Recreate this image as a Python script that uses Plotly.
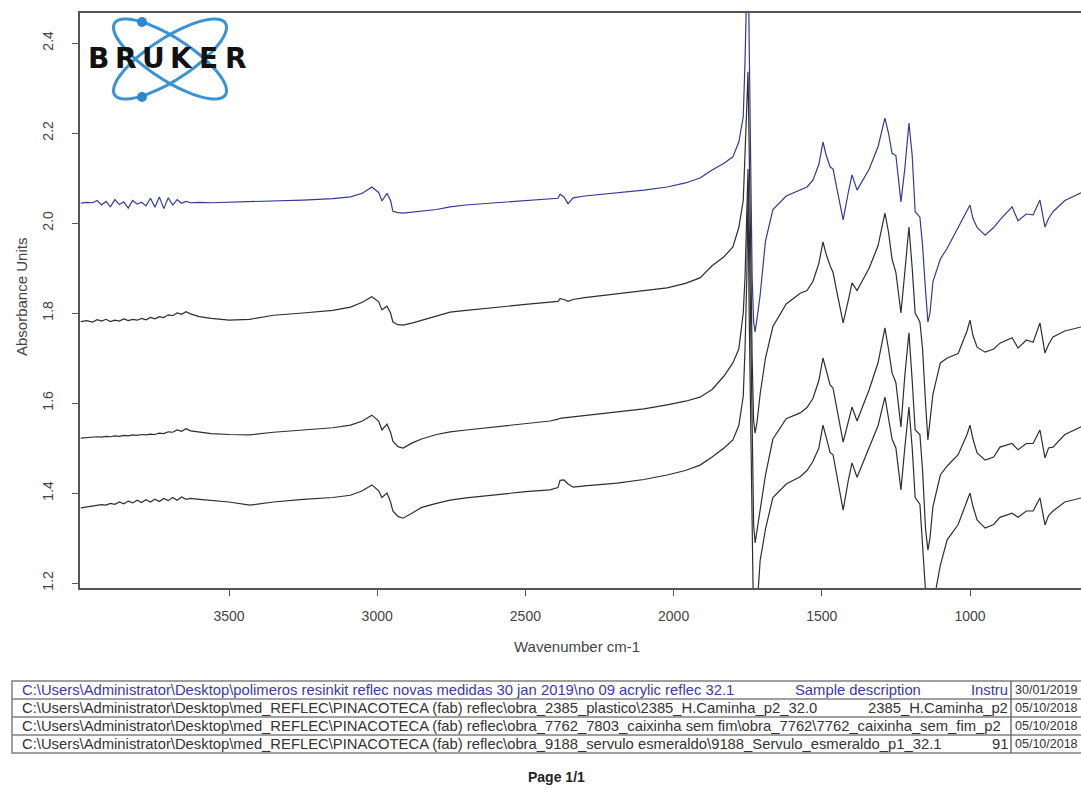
import numpy as np
import plotly.graph_objects as go

# ---------------- data ----------------
WAVENUMBER = [
    # noise region
    4000, 3980, 3960, 3945, 3930, 3915, 3900, 3885, 3870, 3855, 3840, 3825, 3810,
    3795, 3780, 3765, 3750, 3735, 3720, 3705, 3690, 3675, 3660, 3645, 3630,
    # C-H region
    3600, 3560, 3500, 3430, 3350, 3250, 3150, 3090, 3050, 3018, 2995, 2984, 2967,
    2955, 2947, 2930, 2913, 2880, 2850,
    # plateau
    2800, 2754, 2700, 2600, 2500, 2417, 2390, 2383, 2370, 2356, 2339, 2300, 2250,
    2191, 2100, 2022, 1960, 1911,
    # carbonyl
    1870, 1830, 1800, 1780, 1765, 1759, 1753, 1749, 1745, 1740, 1735, 1730, 1725,
    1718, 1708, 1690, 1665,
    # fingerprint
    1620, 1573, 1550, 1530, 1510, 1496, 1485, 1472, 1462, 1450, 1428, 1410, 1398,
    1381, 1340, 1310, 1287, 1275, 1263, 1250, 1233, 1220, 1206, 1195, 1185, 1169,
    1160, 1150, 1142, 1135, 1125,
    # low wavenumber
    1100, 1077, 1040, 1010, 1000, 990, 976, 949, 920, 899, 858, 838, 810, 787, 764,
    747, 735, 720, 680, 625,
]

ACRYLIC_REFLEC = [
    2.044, 2.046, 2.045, 2.050, 2.040, 2.048, 2.036, 2.052, 2.041, 2.047, 2.033, 2.050, 2.042,
    2.046, 2.038, 2.055, 2.035, 2.058, 2.032, 2.056, 2.040, 2.052, 2.044, 2.048, 2.045,
    2.046, 2.045, 2.046, 2.047, 2.049, 2.051, 2.054, 2.058, 2.066, 2.080, 2.068, 2.049, 2.066,
    2.050, 2.026, 2.023, 2.022, 2.024, 2.027,
    2.030, 2.036, 2.040, 2.045, 2.049, 2.053, 2.055, 2.064, 2.058, 2.043, 2.056, 2.060, 2.063,
    2.067, 2.073, 2.080, 2.089, 2.100,
    2.118, 2.133, 2.147, 2.180, 2.236, 2.360, 2.550, 2.650, 2.400, 2.100, 1.880, 1.780, 1.758,
    1.790, 1.840, 1.960, 2.030,
    2.060, 2.073, 2.080, 2.095, 2.130, 2.180, 2.150, 2.125, 2.120, 2.080, 2.007, 2.070, 2.107,
    2.073, 2.120, 2.170, 2.233, 2.200, 2.155, 2.150, 2.047, 2.120, 2.222, 2.150, 2.025, 2.013,
    1.950, 1.850, 1.780, 1.800, 1.870,
    1.920, 1.944, 1.990, 2.030, 2.040, 2.010, 1.990, 1.973, 1.990, 2.007, 2.036, 2.005, 2.020,
    2.018, 2.051, 1.991, 2.010, 2.025, 2.050, 2.067,
]

CAMINHA_P2 = [
    1.781, 1.783, 1.780, 1.785, 1.782, 1.786, 1.781, 1.784, 1.782, 1.787, 1.783, 1.786, 1.784,
    1.788, 1.785, 1.790, 1.787, 1.792, 1.790, 1.796, 1.794, 1.800, 1.797, 1.803, 1.798,
    1.792, 1.788, 1.784, 1.786, 1.795, 1.800, 1.806, 1.813, 1.824, 1.836, 1.825, 1.807, 1.815,
    1.800, 1.780, 1.774, 1.773, 1.778, 1.784,
    1.793, 1.802, 1.806, 1.813, 1.819, 1.824, 1.826, 1.832, 1.830, 1.826, 1.830, 1.834, 1.838,
    1.844, 1.850, 1.856, 1.866, 1.878,
    1.905, 1.925, 1.947, 1.990, 2.050, 2.140, 2.260, 2.336, 2.200, 1.950, 1.700, 1.560, 1.533,
    1.560, 1.620, 1.700, 1.770,
    1.820, 1.844, 1.850, 1.870, 1.910, 1.958, 1.930, 1.905, 1.890, 1.850, 1.778, 1.830, 1.867,
    1.850, 1.900, 1.950, 2.022, 1.980, 1.920, 1.890, 1.800, 1.890, 1.991, 1.900, 1.800, 1.780,
    1.720, 1.600, 1.518, 1.560, 1.620,
    1.689, 1.700, 1.710, 1.760, 1.784, 1.750, 1.724, 1.713, 1.720, 1.733, 1.745, 1.722, 1.740,
    1.735, 1.778, 1.711, 1.730, 1.747, 1.760, 1.769,
]

CAIXINHA_P2 = [
    1.522, 1.523, 1.524, 1.525, 1.524, 1.526, 1.525, 1.527, 1.526, 1.528, 1.527, 1.529, 1.528,
    1.530, 1.529, 1.531, 1.530, 1.533, 1.532, 1.536, 1.535, 1.540, 1.537, 1.543, 1.538,
    1.535, 1.532, 1.530, 1.529, 1.535, 1.540, 1.545, 1.551, 1.560, 1.573, 1.560, 1.540, 1.553,
    1.535, 1.515, 1.503, 1.500, 1.512, 1.520,
    1.530, 1.536, 1.540, 1.547, 1.554, 1.560, 1.564, 1.566, 1.567, 1.568, 1.569, 1.572, 1.576,
    1.580, 1.587, 1.596, 1.604, 1.613,
    1.630, 1.660, 1.689, 1.720, 1.800, 1.880, 2.000, 2.120, 2.000, 1.750, 1.500, 1.330, 1.289,
    1.320, 1.356, 1.440, 1.520,
    1.565, 1.578, 1.590, 1.610, 1.650, 1.700, 1.670, 1.640, 1.633, 1.590, 1.513, 1.560, 1.591,
    1.560, 1.630, 1.690, 1.767, 1.720, 1.667, 1.645, 1.547, 1.660, 1.756, 1.650, 1.540, 1.530,
    1.450, 1.320, 1.273, 1.300, 1.370,
    1.440, 1.460, 1.485, 1.530, 1.551, 1.520, 1.489, 1.473, 1.480, 1.502, 1.510, 1.496, 1.510,
    1.510, 1.540, 1.478, 1.500, 1.502, 1.530, 1.547,
]

SERVULO_P1 = [
    1.367, 1.369, 1.371, 1.372, 1.374, 1.373, 1.377, 1.375, 1.380, 1.376, 1.382, 1.378, 1.384,
    1.379, 1.385, 1.380, 1.386, 1.381, 1.388, 1.383, 1.390, 1.384, 1.391, 1.386, 1.388,
    1.386, 1.383, 1.380, 1.373, 1.380, 1.386, 1.390, 1.395, 1.405, 1.418, 1.405, 1.390, 1.400,
    1.380, 1.360, 1.348, 1.344, 1.356, 1.368,
    1.377, 1.384, 1.389, 1.396, 1.403, 1.407, 1.412, 1.428, 1.429, 1.420, 1.413, 1.416, 1.419,
    1.422, 1.430, 1.440, 1.450, 1.462,
    1.480, 1.500, 1.518, 1.550, 1.615, 1.720, 1.880, 2.070, 1.800, 1.500, 1.250, 1.100, 1.050,
    1.150, 1.250, 1.320, 1.390,
    1.420, 1.436, 1.450, 1.470, 1.500, 1.551, 1.520, 1.490, 1.485, 1.440, 1.362, 1.430, 1.467,
    1.435, 1.500, 1.550, 1.613, 1.570, 1.520, 1.500, 1.407, 1.500, 1.591, 1.500, 1.390, 1.375,
    1.280, 1.150, 1.100, 1.100, 1.150,
    1.240, 1.296, 1.330, 1.380, 1.400, 1.370, 1.340, 1.322, 1.330, 1.346, 1.355, 1.346, 1.360,
    1.360, 1.389, 1.329, 1.350, 1.360, 1.380, 1.389,
]

SERIES = [ACRYLIC_REFLEC, CAMINHA_P2, CAIXINHA_P2, SERVULO_P1]
SERIES_COLORS = ["#353a92", "#2e2e2e", "#2e2e2e", "#2e2e2e"]

X_TICKS = [3500, 3000, 2500, 2000, 1500, 1000]
Y_TICKS = [1.2, 1.4, 1.6, 1.8, 2.0, 2.2, 2.4]
Y_TICK_LABELS = ["1.2", "1.4", "1.6", "1.8", "2.0", "2.2", "2.4"]

TABLE_PATHS = [
    r"C:\Users\Administrator\Desktop\polimeros resinkit reflec novas medidas 30 jan 2019\no 09 acrylic reflec 32.1",
    r"C:\Users\Administrator\Desktop\med_REFLEC\PINACOTECA (fab) reflec\obra_2385_plastico\2385_H.Caminha_p2_32.0",
    r"C:\Users\Administrator\Desktop\med_REFLEC\PINACOTECA (fab) reflec\obra_7762_7803_caixinha sem fim\obra_7762\7762_caixinha_sem_fim_p2",
    r"C:\Users\Administrator\Desktop\med_REFLEC\PINACOTECA (fab) reflec\obra_9188_servulo esmeraldo\9188_Servulo_esmeraldo_p1_32.1",
]
TABLE_DESC = ["Sample description", "2385_H.Caminha_p2", "", "91"]
TABLE_INSTR = ["Instru", "", "", ""]
TABLE_DATES = ["30/01/2019", "05/10/2018", "05/10/2018", "05/10/2018"]

# ---------------- layout geometry ----------------
W, H = 1081, 792
L, T, B_PX = 80, 13, 588          # plot area pixel edges
PW, PH = W - L, B_PX - T


def px(xp):
    return (xp - L) / PW


def py(yp):
    return (B_PX - yp) / PH


fig = go.Figure()
for vals, col in zip(SERIES, SERIES_COLORS):
    fig.add_trace(go.Scatter(x=WAVENUMBER, y=vals, mode="lines",
                             line=dict(color=col, width=1.2), showlegend=False,
                             hoverinfo="skip"))

FONT = "Liberation Sans, Arial, sans-serif"
AX = "#555555"
TXT = "#444444"

shapes = []
annotations = []

# ---- BRUKER logo ----
cx, cy, a, b = 170, 59, 66, 21
t = np.linspace(0, 2 * np.pi, 73)
for ang in (33, -33):
    th = np.radians(ang)
    ex = cx + a * np.cos(t) * np.cos(th) - b * np.sin(t) * np.sin(th)
    ey = cy + a * np.cos(t) * np.sin(th) + b * np.sin(t) * np.cos(th)
    path = "M " + " L ".join(f"{px(x_):.5f},{py(y_):.5f}" for x_, y_ in zip(ex, ey)) + " Z"
    shapes.append(dict(type="path", path=path, xref="paper", yref="paper",
                       line=dict(color="#3a93d2", width=3), layer="above"))
for dx_, dy_ in ((142, 22), (142, 97)):
    shapes.append(dict(type="circle", xref="paper", yref="paper",
                       x0=px(dx_ - 5), x1=px(dx_ + 5), y0=py(dy_ + 5), y1=py(dy_ - 5),
                       fillcolor="#2f88cc", line=dict(width=0), layer="above"))
for i, ch in enumerate("BRUKER"):
    xc = 85 + 165 / 6 * (i + 0.5)
    annotations.append(dict(text=f"<b>{ch}</b>", x=px(xc), y=py(59), xref="paper",
                            yref="paper", showarrow=False, xanchor="center",
                            yanchor="middle", borderpad=0,
                            font=dict(family="DejaVu Sans", size=28, color="#111111")))

# ---- axis titles ----
annotations.append(dict(text="Absorbance Units", x=px(22), y=py(297), xref="paper", yref="paper",
                        showarrow=False, textangle=-90, xanchor="center", yanchor="middle",
                        font=dict(family=FONT, size=15, color=TXT)))
annotations.append(dict(text="Wavenumber cm-1", x=px(577), y=py(646), xref="paper", yref="paper",
                        showarrow=False, xanchor="center", yanchor="middle",
                        font=dict(family=FONT, size=15, color=TXT)))

# ---- table ----
tbl_top, row_h = 681, 18
tbl_left, tbl_right, divider = 12, 1100, 1011
n_rows = len(TABLE_PATHS)
shapes.append(dict(type="rect", xref="paper", yref="paper",
                   x0=px(tbl_left), x1=px(tbl_right), y0=py(tbl_top), y1=py(tbl_top + n_rows * row_h),
                   line=dict(color="#808080", width=1.5)))
for r in range(1, n_rows):
    yy = tbl_top + r * row_h
    shapes.append(dict(type="line", xref="paper", yref="paper",
                       x0=px(tbl_left), x1=px(tbl_right), y0=py(yy), y1=py(yy),
                       line=dict(color="#808080", width=1.5)))
shapes.append(dict(type="line", xref="paper", yref="paper",
                   x0=px(divider), x1=px(divider), y0=py(tbl_top), y1=py(tbl_top + n_rows * row_h),
                   line=dict(color="#707070", width=1.5)))

TSIZE = 14.8
for r in range(n_rows):
    yc = tbl_top + r * row_h + row_h / 2
    col = "#3a3aa8" if r == 0 else "#333333"
    f = dict(family=FONT, size=TSIZE, color=col)
    annotations.append(dict(text=TABLE_PATHS[r], x=px(20), y=py(yc), xref="paper", yref="paper",
                            showarrow=False, xanchor="left", yanchor="middle", font=f))
    if r == 0:
        annotations.append(dict(text=TABLE_DESC[r], x=px(793), y=py(yc), xref="paper", yref="paper",
                                showarrow=False, xanchor="left", yanchor="middle", font=f))
        annotations.append(dict(text=TABLE_INSTR[r], x=px(divider - 1), y=py(yc), xref="paper",
                                yref="paper", showarrow=False, xanchor="right", yanchor="middle",
                                font=f))
    elif TABLE_DESC[r]:
        annotations.append(dict(text=TABLE_DESC[r], x=px(divider - 1), y=py(yc), xref="paper",
                                yref="paper", showarrow=False, xanchor="right", yanchor="middle",
                                font=f))
    annotations.append(dict(text=TABLE_DATES[r], x=px(1014), y=py(yc), xref="paper", yref="paper",
                            showarrow=False, xanchor="left", yanchor="middle", borderpad=0,
                            font=dict(family=FONT, size=12.5, color="#333333")))

annotations.append(dict(text="<b>Page 1/1</b>", x=px(556), y=py(777), xref="paper", yref="paper",
                        showarrow=False, xanchor="center", yanchor="middle",
                        font=dict(family=FONT, size=14, color="#222222")))

fig.update_layout(
    width=W, height=H,
    margin=dict(l=L, r=0, t=T, b=H - B_PX, pad=0),
    paper_bgcolor="white", plot_bgcolor="white",
    showlegend=False,
    shapes=shapes, annotations=annotations,
    xaxis=dict(range=[4002.7, 625.5], tickvals=X_TICKS, ticks="outside", ticklen=6,
               tickcolor=AX, tickwidth=1.2, showline=True, linecolor=AX, linewidth=1.5,
               mirror=True, showgrid=False, zeroline=False, ticklabelstandoff=8,
               tickfont=dict(family=FONT, size=14, color=TXT)),
    yaxis=dict(range=[1.1889, 2.4667], tickvals=Y_TICKS, ticktext=Y_TICK_LABELS,
               ticks="outside", ticklen=6, tickcolor=AX, tickwidth=1.2, showline=True,
               linecolor=AX, linewidth=1.5, mirror=False, showgrid=False, zeroline=False,
               tickangle=-90, ticklabelstandoff=14,
               tickfont=dict(family=FONT, size=14, color=TXT)),
)

fig.write_html("out.html")
